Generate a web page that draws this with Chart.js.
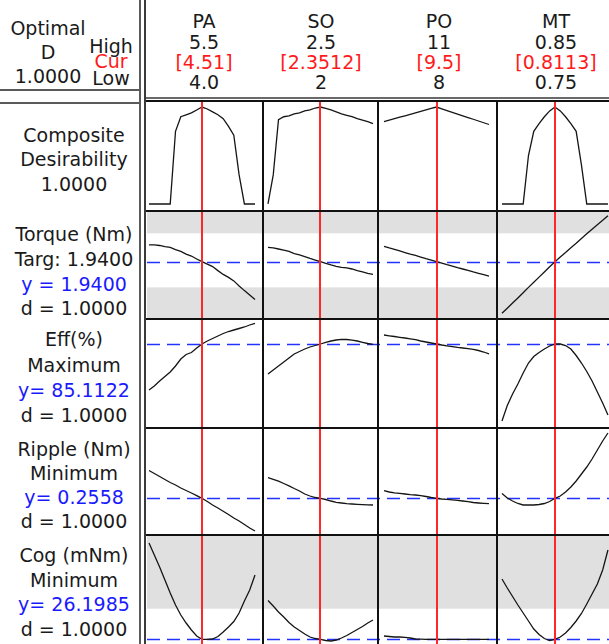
<!DOCTYPE html>
<html lang="en">
<head>
<meta charset="UTF-8" />
<title>Response Optimizer</title>
<script src="https://cdn.jsdelivr.net/npm/chart.js"></script>
<style>
  body { margin: 0; background: #fff; }
  #wrap { position: relative; width: 609px; height: 644px; overflow: hidden; background: #fff;
          font-family: "DejaVu Sans", sans-serif; }
  .t { position: absolute; font-size: 19px; line-height: 20px; color: #1a1a1a; white-space: nowrap;
       transform: translate(-50%, -50%); text-align: center; }
  .red { color: #ff1a1a; }
  .blue { color: #1a1aff; }
  .ln { position: absolute; }
  canvas { position: absolute; }
</style>
</head>
<body>
<div id="wrap"></div>

<script>
  // ---- factors (columns) ----
  const factors = ['PA', 'SO', 'PO', 'MT'];
  const factorHigh = ['5.5', '2.5', '11', '0.85'];
  const factorCur = ['[4.51]', '[2.3512]', '[9.5]', '[0.8113]'];
  const factorLow = ['4.0', '2', '8', '0.75'];
  const curIndex = 10; // current setting sits at the middle sample of each sweep

  // ---- responses (rows), 21 samples per factor sweep: PA, SO, PO, MT ----
  const compositeD = [
    [0, 0, 0, 0, 0, 0.75, 0.9, 0.92, 0.94, 0.97, 1.0, 0.98, 0.95, 0.92, 0.88, 0.8, 0.71, 0.3, 0, 0, 0],
    [0, 0.3, 0.87, 0.9, 0.91, 0.93, 0.94, 0.96, 0.97, 0.99, 1.0, 0.985, 0.97, 0.95, 0.93, 0.915, 0.9, 0.88, 0.865, 0.85, 0.83],
    [0.85, 0.865, 0.88, 0.895, 0.91, 0.925, 0.94, 0.955, 0.97, 0.985, 1.0, 0.982, 0.964, 0.946, 0.928, 0.91, 0.892, 0.874, 0.856, 0.838, 0.82],
    [0, 0, 0, 0, 0, 0.5, 0.75, 0.83, 0.9, 0.96, 1.0, 0.96, 0.9, 0.83, 0.75, 0.4, 0, 0, 0, 0, 0]
  ];
  const torque = [
    [2.002, 2.002, 2.000, 1.996, 1.993, 1.985, 1.978, 1.968, 1.961, 1.950, 1.940, 1.931, 1.922, 1.907, 1.893, 1.882, 1.869, 1.850, 1.833, 1.817, 1.800],
    [1.993, 1.991, 1.987, 1.983, 1.978, 1.970, 1.965, 1.959, 1.952, 1.946, 1.940, 1.934, 1.928, 1.923, 1.919, 1.917, 1.913, 1.907, 1.902, 1.897, 1.893],
    [1.997, 1.991, 1.986, 1.980, 1.974, 1.968, 1.963, 1.957, 1.951, 1.946, 1.940, 1.935, 1.929, 1.924, 1.918, 1.913, 1.908, 1.902, 1.897, 1.892, 1.887],
    [1.749, 1.768, 1.787, 1.806, 1.825, 1.845, 1.864, 1.883, 1.902, 1.921, 1.940, 1.957, 1.974, 1.992, 2.008, 2.026, 2.043, 2.060, 2.077, 2.093, 2.110]
  ];
  const efficiency = [
    [80.51, 80.91, 81.41, 81.86, 82.31, 82.91, 83.61, 84.06, 84.26, 84.71, 85.11, 85.41, 85.66, 85.91, 86.16, 86.36, 86.51, 86.66, 86.81, 87.01, 87.18],
    [82.11, 82.51, 82.91, 83.31, 83.71, 84.11, 84.36, 84.61, 84.81, 84.96, 85.11, 85.28, 85.41, 85.51, 85.58, 85.56, 85.49, 85.41, 85.28, 85.16, 85.08],
    [86.01, 85.93, 85.86, 85.78, 85.71, 85.63, 85.54, 85.41, 85.31, 85.21, 85.11, 85.01, 84.93, 84.85, 84.77, 84.71, 84.64, 84.58, 84.46, 84.31, 84.13],
    [77.41, 78.96, 80.11, 81.11, 82.21, 83.21, 83.86, 84.26, 84.61, 84.91, 85.11, 85.11, 84.96, 84.61, 83.96, 83.21, 82.36, 81.41, 80.31, 79.21, 78.01]
  ];
  const ripple = [
    [0.3114, 0.3054, 0.2994, 0.2934, 0.2874, 0.2824, 0.2764, 0.2714, 0.2664, 0.2610, 0.2558, 0.2494, 0.2424, 0.2364, 0.2300, 0.2234, 0.2164, 0.2104, 0.2034, 0.1964, 0.1904],
    [0.2970, 0.2938, 0.2900, 0.2854, 0.2808, 0.2754, 0.2704, 0.2644, 0.2604, 0.2574, 0.2558, 0.2534, 0.2504, 0.2478, 0.2464, 0.2452, 0.2444, 0.2438, 0.2432, 0.2428, 0.2424],
    [0.2710, 0.2684, 0.2668, 0.2656, 0.2644, 0.2632, 0.2624, 0.2612, 0.2594, 0.2574, 0.2558, 0.2544, 0.2536, 0.2528, 0.2518, 0.2504, 0.2490, 0.2474, 0.2464, 0.2456, 0.2450],
    [0.2654, 0.2564, 0.2504, 0.2454, 0.2424, 0.2424, 0.2424, 0.2434, 0.2454, 0.2494, 0.2558, 0.2604, 0.2684, 0.2784, 0.2904, 0.3044, 0.3184, 0.3344, 0.3524, 0.3704, 0.3864]
  ];
  const cogging = [
    [74.35, 68.35, 62.35, 55.85, 49.35, 43.35, 38.35, 34.35, 30.85, 27.85, 26.20, 26.20, 26.35, 27.60, 29.85, 32.35, 35.10, 39.35, 45.35, 50.85, 58.35],
    [45.60, 42.85, 39.85, 37.35, 34.60, 32.35, 30.60, 28.85, 27.35, 26.60, 26.20, 25.60, 25.35, 25.85, 26.85, 28.10, 29.60, 31.10, 32.60, 34.35, 35.85],
    [27.85, 27.60, 27.35, 27.35, 27.20, 26.85, 26.35, 26.25, 26.20, 26.20, 26.20, 26.20, 26.18, 26.18, 26.15, 26.15, 26.15, 26.15, 26.15, 26.15, 26.15],
    [56.35, 51.85, 47.60, 43.35, 39.35, 35.35, 31.35, 28.60, 26.60, 25.60, 26.20, 27.35, 29.35, 32.10, 35.35, 39.10, 43.85, 48.85, 53.85, 60.85, 70.85]
  ];

  // predicted response at the optimum (blue dashed line), null for composite
  const predicted = [null, 1.94, 85.1122, 0.2558, 26.1985];
  // zero-desirability regions, shaded grey [from, to]
  const torqueBands = [[2.045, 9], [-9, 1.845]];
  const cogBands = [[41.5, 999]];

  const rowLabels = [
    ['Composite', 'Desirability', '1.0000'],
    ['Torque (Nm)', 'Targ: 1.9400', 'y = 1.9400', 'd = 1.0000'],
    ['Eff(%)', 'Maximum', 'y= 85.1122', 'd = 1.0000'],
    ['Ripple (Nm)', 'Minimum', 'y= 0.2558', 'd = 1.0000'],
    ['Cog (mNm)', 'Minimum', 'y= 26.1985', 'd = 1.0000']
  ];

  // ---- layout ----
  const rows = [
    { top: 102, h: 108, min: -0.062, max: 1.052, data: compositeD, bands: [] },
    { top: 212, h: 106, min: 1.7317, max: 2.1239, data: torque, bands: torqueBands },
    { top: 320, h: 107, min: 76.81, max: 87.51, data: efficiency, bands: [] },
    { top: 429, h: 105, min: 0.1844, max: 0.3944, data: ripple, bands: [] },
    { top: 536, h: 110, min: 22.85, max: 77.85, data: cogging, bands: cogBands }
  ];
  const cols = [
    { left: 147, w: 115, min: -0.38, max: 21.32 },
    { left: 264, w: 113, min: -0.76, max: 20.76 },
    { left: 379, w: 117, min: -0.95, max: 21.33 },
    { left: 498, w: 116, min: -0.75, max: 21.14 }
  ];
  const labelY = [
    [135, 159, 184],
    [234, 259, 284, 308],
    [339, 365, 390, 415],
    [449, 473, 497, 521],
    [555, 580, 604, 629]
  ];

  const wrap = document.getElementById('wrap');

  function text(str, x, y, cls) {
    const d = document.createElement('div');
    d.className = 't' + (cls ? ' ' + cls : '');
    d.style.left = x + 'px';
    d.style.top = y + 'px';
    d.textContent = str;
    wrap.appendChild(d);
  }
  function line(x, y, w, h, color) {
    const d = document.createElement('div');
    d.className = 'ln';
    Object.assign(d.style, { left: x + 'px', top: y + 'px', width: w + 'px', height: h + 'px', background: color });
    wrap.appendChild(d);
  }

  // header
  text('Optimal', 48, 28);
  text('D', 48, 52);
  text('1.0000', 48, 76);
  text('High', 111, 46);
  text('Cur', 111, 61, 'red');
  text('Low', 111, 78);
  const headX = [204, 321, 439, 556];
  factors.forEach((f, i) => {
    text(f, headX[i], 21);
    text(factorHigh[i], headX[i], 42);
    text(factorCur[i], headX[i], 62, 'red');
    text(factorLow[i], headX[i], 82);
  });

  // row labels
  rowLabels.forEach((lines, r) => {
    lines.forEach((s, k) => text(s, 74, labelY[r][k], s.startsWith('y') ? 'blue' : ''));
  });

  // frame lines
  line(0, 89, 141, 2, '#5a5a5a');
  line(0, 102, 141, 2, '#5a5a5a');
  line(139, 0, 2, 644, '#5a5a5a');
  line(144, 0, 2, 644, '#3a3a3a');
  line(146, 97, 463, 2, '#6a6a6a');
  line(146, 100, 463, 2, '#111');
  [210, 318, 427, 534].forEach(y => line(146, y, 463, 2, '#111'));
  [262, 377, 496].forEach(x => line(x, 100, 2, 544, '#111'));

  const guidePlugin = {
    id: 'guides',
    beforeDatasetsDraw(chart, args, opts) {
      const ctx = chart.ctx, ys = chart.scales.y;
      ctx.save();
      ctx.fillStyle = '#e0e0e0';
      opts.bands.forEach(b => {
        const a = ys.getPixelForValue(b[1]), c = ys.getPixelForValue(b[0]);
        const top = Math.max(0, Math.min(a, c)), bot = Math.min(chart.height, Math.max(a, c));
        ctx.fillRect(0, top, chart.width, bot - top);
      });
      if (opts.target !== null) {
        const y = Math.round(ys.getPixelForValue(opts.target)) + 0.5;
        ctx.strokeStyle = '#2233ff';
        ctx.lineWidth = 1.6;
        ctx.setLineDash([13, 7]);
        ctx.lineDashOffset = opts.dashOffset;
        ctx.beginPath();
        ctx.moveTo(0, y);
        ctx.lineTo(chart.width, y);
        ctx.stroke();
      }
      ctx.restore();
    },
    afterDatasetsDraw(chart, args, opts) {
      const ctx = chart.ctx;
      const x = Math.round(chart.scales.x.getPixelForValue(opts.cur));
      ctx.save();
      ctx.strokeStyle = '#ff2828';
      ctx.lineWidth = 2;
      ctx.beginPath();
      ctx.moveTo(x, 0);
      ctx.lineTo(x, chart.height);
      ctx.stroke();
      ctx.restore();
    }
  };

  rows.forEach((row, r) => {
    cols.forEach((col, c) => {
      const cv = document.createElement('canvas');
      cv.width = col.w;
      cv.height = row.h;
      cv.style.left = col.left + 'px';
      cv.style.top = row.top + 'px';
      cv.style.width = col.w + 'px';
      cv.style.height = row.h + 'px';
      wrap.appendChild(cv);

      new Chart(cv, {
        type: 'line',
        data: {
          datasets: [{
            data: row.data[c].map((v, i) => ({ x: i, y: v })),
            borderColor: '#151515',
            borderWidth: 1.3,
            pointRadius: 0,
            tension: 0,
            fill: false
          }]
        },
        options: {
          responsive: false,
          animation: false,
          devicePixelRatio: 1,
          layout: { padding: 0 },
          plugins: {
            legend: { display: false },
            tooltip: { enabled: false },
            guides: { bands: row.bands, target: predicted[r], cur: curIndex, dashOffset: col.left - 147 }
          },
          scales: {
            x: { type: 'linear', min: col.min, max: col.max, display: false },
            y: { type: 'linear', min: row.min, max: row.max, display: false }
          }
        },
        plugins: [guidePlugin]
      });
    });
  });
</script>
</body>
</html>
